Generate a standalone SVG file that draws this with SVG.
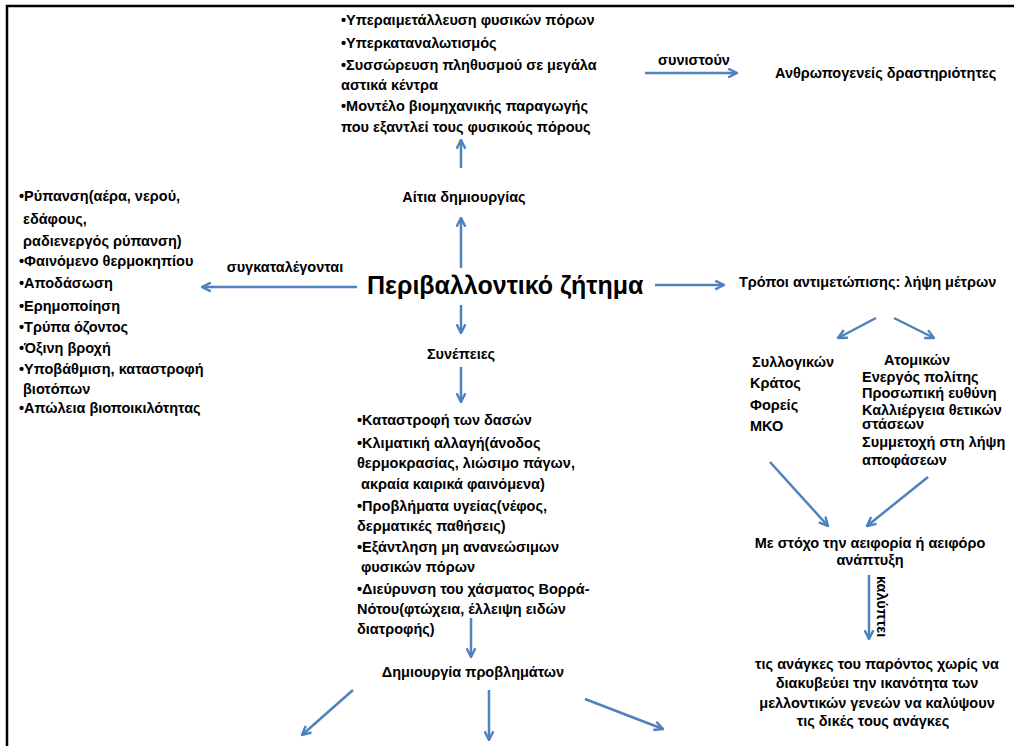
<svg xmlns="http://www.w3.org/2000/svg" width="1014" height="746" viewBox="0 0 1014 746">
<defs>
<marker id="ah" viewBox="0 0 10 10" refX="9" refY="5" markerWidth="11" markerHeight="11" markerUnits="userSpaceOnUse" orient="auto">
<path d="M1,1 L9,5 L1,9" fill="none" stroke="#4F81BD" stroke-width="2.2" stroke-linejoin="miter"/>
</marker>
<style>
text{font-family:"Liberation Sans","DejaVu Sans",sans-serif;font-weight:bold;fill:#000;font-size:14.5px}
.c{text-anchor:middle}
.big{font-size:25px}
.ln{stroke:#4F81BD;stroke-width:2.5;fill:none;marker-end:url(#ah)}
.frame{stroke:#000;stroke-width:2.5;fill:none}
</style>
</defs>
<rect width="1014" height="746" fill="#fff"/>
<path class="frame" d="M7,746 L7,6 L1014,6"/>

<g id="connectors">
<line class="ln" x1="645" y1="73" x2="737" y2="73"/>
<line class="ln" x1="461" y1="168" x2="461" y2="140"/>
<line class="ln" x1="461" y1="268" x2="461" y2="218"/>
<line class="ln" x1="357" y1="287" x2="202" y2="287"/>
<line class="ln" x1="655" y1="285" x2="724" y2="285"/>
<line class="ln" x1="461" y1="305" x2="461" y2="333"/>
<line class="ln" x1="461" y1="367" x2="461" y2="402"/>
<line class="ln" x1="471" y1="618" x2="471" y2="657"/>
<line class="ln" x1="353" y1="690" x2="302" y2="735"/>
<line class="ln" x1="489" y1="690" x2="489" y2="740"/>
<line class="ln" x1="585" y1="699" x2="663" y2="729"/>
<line class="ln" x1="876" y1="318" x2="838" y2="338"/>
<line class="ln" x1="894" y1="318" x2="934" y2="338"/>
<line class="ln" x1="770" y1="462" x2="828" y2="526"/>
<line class="ln" x1="928" y1="477" x2="867" y2="526"/>
<line class="ln" x1="869" y1="575" x2="869" y2="639"/>
<text x="0" y="0" transform="translate(877,576) rotate(90)">καλύπτει</text>
<text class="c" x="694" y="65">συνιστούν</text>
<text class="c" x="285" y="272">συγκαταλέγονται</text>
</g>

<g id="node-causes-list">
<text x="341" y="25">•Υπεραιμετάλλευση φυσικών πόρων</text>
<text x="341" y="48">•Υπερκαταναλωτισμός</text>
<text x="341" y="70">•Συσσώρευση πληθυσμού σε μεγάλα</text>
<text x="341" y="90">αστικά κέντρα</text>
<text x="341" y="111">•Μοντέλο βιομηχανικής παραγωγής</text>
<text x="341" y="132">που εξαντλεί τους φυσικούς πόρους</text>
</g>

<g id="node-anthropogenic">
<text x="775" y="78">Ανθρωπογενείς δραστηριότητες</text>
</g>

<g id="node-causes">
<text class="c" x="464" y="202">Αίτια δημιουργίας</text>
</g>

<g id="node-main">
<text class="big" x="367" y="294">Περιβαλλοντικό ζήτημα</text>
</g>

<g id="node-problems-list">
<text x="19" y="201">•Ρύπανση(αέρα, νερού,</text>
<text x="23" y="224">εδάφους,</text>
<text x="23" y="246">ραδιενεργός ρύπανση)</text>
<text x="19" y="266">•Φαινόμενο θερμοκηπίου</text>
<text x="19" y="288">•Αποδάσωση</text>
<text x="19" y="311">•Ερημοποίηση</text>
<text x="19" y="332">•Τρύπα όζοντος</text>
<text x="19" y="353">•Όξινη βροχή</text>
<text x="19" y="374">•Υποβάθμιση, καταστροφή</text>
<text x="23" y="394">βιοτόπων</text>
<text x="19" y="413">•Απώλεια βιοποικιλότητας</text>
</g>

<g id="node-measures">
<text x="739" y="287">Τρόποι αντιμετώπισης: λήψη μέτρων</text>
</g>

<g id="node-consequences">
<text class="c" x="461" y="359">Συνέπειες</text>
</g>

<g id="node-consequences-list">
<text x="357" y="425">•Καταστροφή των δασών</text>
<text x="357" y="448">•Κλιματική αλλαγή(άνοδος</text>
<text x="357" y="468">θερμοκρασίας, λιώσιμο πάγων,</text>
<text x="361" y="489">ακραία καιρικά φαινόμενα)</text>
<text x="357" y="511">•Προβλήματα υγείας(νέφος,</text>
<text x="357" y="531">δερματικές παθήσεις)</text>
<text x="357" y="552">•Εξάντληση  μη ανανεώσιμων</text>
<text x="361" y="572">φυσικών πόρων</text>
<text x="357" y="594">•Διεύρυνση του χάσματος Βορρά-</text>
<text x="357" y="614">Νότου(φτώχεια, έλλειψη ειδών</text>
<text x="357" y="634">διατροφής)</text>
</g>

<g id="node-problems">
<text class="c" x="473" y="677">Δημιουργία προβλημάτων</text>
</g>

<g id="node-collective">
<text class="c" x="793" y="367">Συλλογικών</text>
<text x="750" y="388">Κράτος</text>
<text x="750" y="410">Φορείς</text>
<text x="750" y="431">ΜΚΟ</text>
</g>

<g id="node-individual">
<text class="c" x="917" y="365">Ατομικών</text>
<text x="862" y="382">Ενεργός πολίτης</text>
<text x="862" y="398">Προσωπική ευθύνη</text>
<text x="862" y="415">Καλλιέργεια θετικών</text>
<text x="862" y="429">στάσεων</text>
<text x="862" y="447">Συμμετοχή στη λήψη</text>
<text x="862" y="465">αποφάσεων</text>
</g>

<g id="node-sustainability">
<text class="c" x="870" y="548">Με στόχο την αειφορία ή αειφόρο</text>
<text class="c" x="870" y="565">ανάπτυξη</text>
</g>

<g id="node-needs">
<text class="c" x="877" y="669">τις ανάγκες του παρόντος χωρίς να</text>
<text class="c" x="877" y="688">διακυβεύει την ικανότητα των</text>
<text class="c" x="877" y="708">μελλοντικών γενεών  να καλύψουν</text>
<text class="c" x="873" y="726">τις δικές τους ανάγκες</text>
</g>
</svg>
